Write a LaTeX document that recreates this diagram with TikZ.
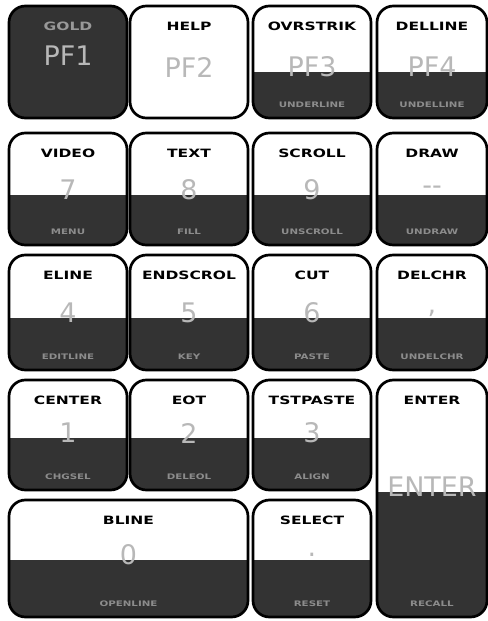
\documentclass[tikz,border=0pt]{standalone}
\usepackage{fontspec}
\setmainfont{DejaVu Sans}
\newfontfamily\keyfont[FakeStretch=1.35]{DejaVu Sans}
\newfontfamily\numfont{DejaVu Sans}
\usepackage{tikz}
\usetikzlibrary{positioning}

% #1 name, #2-#3 left/right, #4-#5 top/bottom, #6 split, #7 title, #8 number, #9 lower text
\newcommand{\keycap}[9]{%
  \begin{scope}
    \clip[rounded corners=14pt] (#2,#4) rectangle (#3,#5);
    \fill[keyface] (#2,#6) rectangle (#3,#5);
  \end{scope}
  \draw[keyrim] (#2,#4) rectangle (#3,#5);
  \node[keytitle] (#1) at ({(#2+#3)/2},#4+20) {#7};
  \node[keynum] (#1-num) at ({(#2+#3)/2},#6-5) {#8};
  \node[keylow] (#1-low) at ({(#2+#3)/2},#5-13) {#9};
}

\begin{document}
\begin{tikzpicture}[x=0.03cm, y=-0.03cm,
   keyrim/.style={draw, line width=2.3pt, rounded corners=14pt},
   keyface/.style={fill=black!80},
   keytitle/.style={font=\keyfont\bfseries\fontsize{9.8}{10}\selectfont, inner sep=0pt},
   keynum/.style={font=\numfont\fontsize{23}{24}\selectfont, text=black!28, inner sep=0pt},
   keylow/.style={font=\keyfont\bfseries\fontsize{6.5}{7}\selectfont, text=black!45, inner sep=0pt}]
  \useasboundingbox (0,0) rectangle (488,621);

  \begin{scope}[keytitle/.append style={text=black!40}, keynum/.append style={yshift=-1.65cm}]
    \keycap{kgold}{9}{127}{6}{118}{6}{GOLD}{PF1}{}
  \end{scope}
  \begin{scope}[keyface/.style={fill=white}]
    \keycap{khelp}{130}{248}{6}{118}{73}{HELP}{PF2}{}
  \end{scope}
  \keycap{kovrstrik}{253}{371}{6}{118}{72}{OVRSTRIK}{PF3}{UNDERLINE}
  \keycap{kdelline}{377}{487}{6}{118}{72}{DELLINE}{PF4}{UNDELLINE}

  \keycap{kvideo}{9}{127}{133}{245}{195}{VIDEO}{7}{MENU}
  \keycap{ktext}{130}{248}{133}{245}{195}{TEXT}{8}{FILL}
  \keycap{kscroll}{253}{371}{133}{245}{195}{SCROLL}{9}{UNSCROLL}
  \keycap{kdraw}{377}{487}{133}{245}{195}{DRAW}{--}{UNDRAW}

  \keycap{keline}{9}{127}{255}{370}{318}{ELINE}{4}{EDITLINE}
  \keycap{kendscrol}{130}{248}{255}{370}{318}{ENDSCROL}{5}{KEY}
  \keycap{kcut}{253}{371}{255}{370}{318}{CUT}{6}{PASTE}
  \keycap{kdelchr}{377}{487}{255}{370}{318}{DELCHR}{,}{UNDELCHR}

  \keycap{kcenter}{9}{127}{380}{490}{438}{CENTER}{1}{CHGSEL}
  \keycap{keot}{130}{248}{380}{490}{438}{EOT}{2}{DELEOL}
  \keycap{ktstpaste}{253}{371}{380}{490}{438}{TSTPASTE}{3}{ALIGN}
  \keycap{kenter}{377}{487}{380}{617}{492}{ENTER}{ENTER}{RECALL}

  \keycap{kbline}{9}{248}{500}{617}{560}{BLINE}{0}{OPENLINE}
  \keycap{kselect}{253}{371}{500}{617}{560}{SELECT}{.}{RESET}
\end{tikzpicture}
\end{document}
